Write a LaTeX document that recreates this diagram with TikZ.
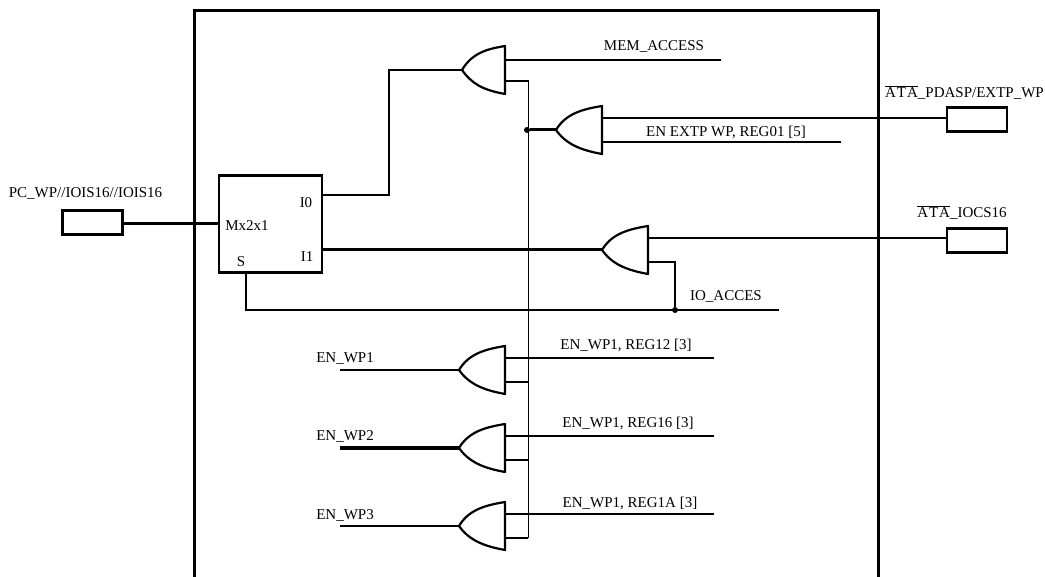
\documentclass[tikz,border=0pt]{standalone}
\usepackage{fontspec}
\setmainfont{Liberation Serif}
\usetikzlibrary{positioning}

\begin{document}
\begin{tikzpicture}[
x=1pt, y=-1pt,
every node/.style={inner sep=0pt, outer sep=0pt},
textlabel/.style={font=\fontsize{15}{15}\selectfont, text height=10pt, text depth=0pt},
portbox/.style={rectangle, draw=black, line width=2.4pt, minimum width=60pt, minimum height=24pt},
muxbox/.style={rectangle, draw=black, line width=2.5pt, minimum width=103pt, minimum height=97pt},
gatebox/.style={rectangle, minimum width=46pt, minimum height=48pt},
junction/.style={circle, fill=black, minimum size=6pt},
gateline/.style={line width=2.2pt, line join=round},
wire/.style={draw=black, line width=2pt},
boldwire/.style={draw=black, line width=3pt},
thinwire/.style={draw=black, line width=1.3pt}
]
    \useasboundingbox (0,0) rectangle (1045,577);

    %Frame
    \draw[line width=2.6pt] (194.5,577) -- (194.5,10.5) -- (878.5,10.5) -- (878.5,577);

    %Nodes
    \node[portbox] (pcPort) at (92.5,222.5) {};
    \node[muxbox] (mux) at (270.5,224) {};
    \node[gatebox, minimum width=43pt] (gMem) at (483.5,70) {};
    \node[gatebox] (gExtp) at (579,130) {};
    \node[gatebox] (gIocs) at (625,250) {};
    \node[gatebox] (gWpa) at (482,370) {};
    \node[gatebox] (gWpb) [below=30pt of gWpa] {};
    \node[gatebox] (gWpc) [below=30pt of gWpb] {};
    \node[portbox] (extpPort) at (977,119.5) {};
    \node[portbox] (iocsPort) at (977,240.5) {};
    \node[junction] (dotExtp) at (527,130) {};
    \node[junction] (dotIo) at (675,310) {};

    %Gate outlines
    \foreach \g in {gMem,gExtp,gIocs,gWpa,gWpb,gWpc}
        \draw[gateline] (\g.north east) .. controls +(-18,3) and +(10,-17) .. (\g.west)
            .. controls +(10,14) and +(-22,-4) .. (\g.south east) -- cycle;

    %Labels
    \node[textlabel] (pcText) at (85.5,193) {PC\_WP//IOIS16//IOIS16};
    \node[textlabel] (muxText) at (247,226) {Mx2x1};
    \node[textlabel] (muxZero) at (306,203) {I0};
    \node[textlabel] (muxOne) at (307,257) {I1};
    \node[textlabel] (muxSel) at (241,262) {S};
    \node[textlabel] (memText) at (654,46) {MEM\_ACCESS};
    \node[textlabel] (extpText) at (726,132) {EN EXTP WP, REG01 [5]};
    \node[textlabel] (ioText) at (726,296) {IO\_ACCES};
    \node[textlabel] (regA) at (626,345) {EN\_WP1, REG12 [3]};
    \node[textlabel] (regB) at (628,423) {EN\_WP1, REG16 [3]};
    \node[textlabel] (regC) at (630,502) {EN\_WP1, REG1A [3]};
    \node[textlabel] (wpaText) at (345,358) {EN\_WP1};
    \node[textlabel] (wpbText) at (345,436) {EN\_WP2};
    \node[textlabel] (wpcText) at (345,514) {EN\_WP3};
    \node[textlabel] (extpName) at (964.5,93) {$\overline{\mbox{A\kern1pt T\kern1pt A}}$\_PDASP/EXTP\_WP};
    \node[textlabel] (iocsName) at (962,213) {$\overline{\mbox{A\kern1pt T\kern1pt A}}$\_IOCS16};

    %Free ends
    \coordinate (muxZeroEnd) at (322,195);
    \coordinate (muxOneEnd) at (322,250);
    \coordinate (muxSelEnd) at (246,273);
    \coordinate (memBend) at (389,70);
    \coordinate (memEnd) at (721,60);
    \coordinate (extpTop) at (602,118);
    \coordinate (extpIn) at (947,118);
    \coordinate (extpEnd) at (841,142);
    \coordinate (iocsTop) at (648,238);
    \coordinate (iocsIn) at (947,238);
    \coordinate (ioEnd) at (779,310);
    \coordinate (busTop) at (528.3,81);
    \coordinate (busBot) at (528.3,538);
    \coordinate (wpaIn) at (340,370);
    \coordinate (wpbIn) at (340,448);
    \coordinate (wpcIn) at (340,526);
    \coordinate (regAEnd) at (714,358);
    \coordinate (regBEnd) at (714,436);
    \coordinate (regCEnd) at (714,514);
    \coordinate (wpaTap) at (528.3,382);
    \coordinate (wpbTap) at (528.3,460);

    %Lines
    \draw[boldwire] (pcPort.east |- mux.west) -- (mux.west);
    \draw[wire] (muxZeroEnd) -| (memBend) -- (gMem.west);
    \draw[boldwire] (muxOneEnd) -- (gIocs.west);
    \draw[wire] (muxSelEnd) |- (ioEnd);
    \draw[wire] ([yshift=10pt]gMem.east) -- (memEnd);
    \draw[thinwire] ([yshift=-11pt]gMem.east) -- (busTop) -- (busBot);
    \draw[boldwire] (dotExtp) -- (gExtp.west);
    \draw[wire] (extpTop) -- (extpIn);
    \draw[wire] ([yshift=-12pt]gExtp.east) -- (extpEnd);
    \draw[wire] (iocsTop) -- (iocsIn);
    \draw[wire] ([yshift=-12pt]gIocs.east) -| (dotIo);

    %Lower gates
    \draw[wire] (wpaIn) -- (gWpa.west);
    \draw[boldwire] (wpbIn) -- (gWpb.west);
    \draw[wire] (wpcIn) -- (gWpc.west);
    \draw[wire] ([yshift=12pt]gWpa.east) -- (regAEnd);
    \draw[wire] ([yshift=12pt]gWpb.east) -- (regBEnd);
    \draw[wire] ([yshift=12pt]gWpc.east) -- (regCEnd);
    \draw[wire] ([yshift=-12pt]gWpa.east) -- (wpaTap);
    \draw[wire] ([yshift=-12pt]gWpb.east) -- (wpbTap);
    \draw[wire] ([yshift=-12pt]gWpc.east) -- (busBot);
\end{tikzpicture}
\end{document}
